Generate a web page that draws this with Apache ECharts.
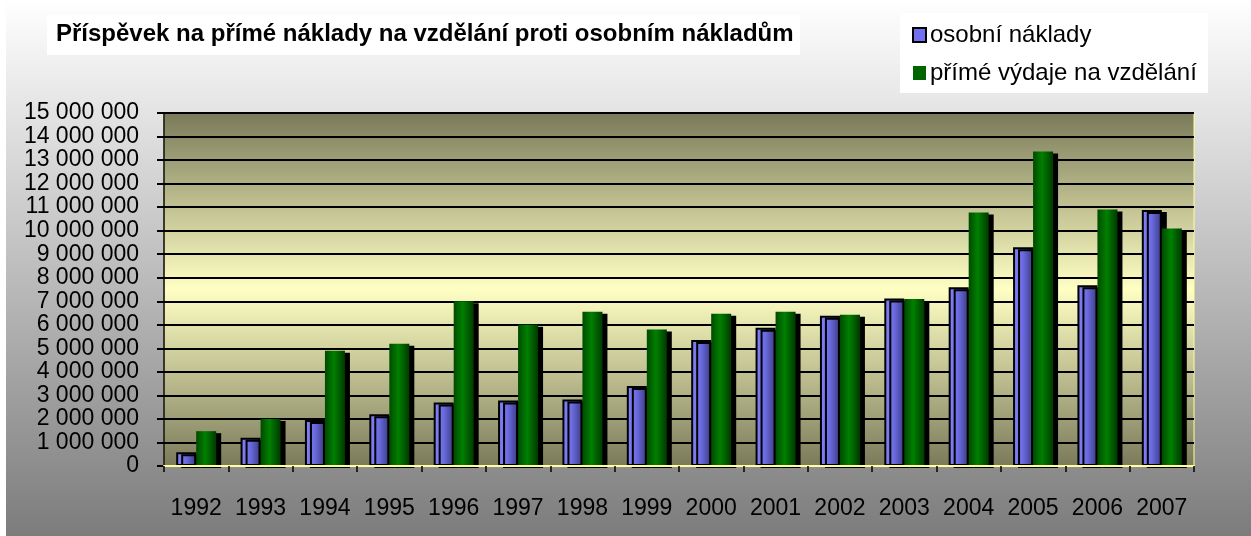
<!DOCTYPE html>
<html><head><meta charset="utf-8">
<script src="https://cdn.jsdelivr.net/npm/echarts@6/dist/echarts.min.js"></script>
<style>html,body{margin:0;padding:0;}#c{width:1251px;height:536px;}</style>
</head><body><div id="c"></div>
<script>
const years = ['1992','1993','1994','1995','1996','1997','1998','1999','2000','2001','2002','2003','2004','2005','2006','2007'];
const osobniNaklady = [580000,1200000,1950000,2200000,2700000,2780000,2830000,3400000,5350000,5870000,6380000,7120000,7600000,9300000,7680000,10880000];
const primeVydaje = [1480000,2000000,4900000,5200000,7000000,6000000,6550000,5800000,6470000,6550000,6430000,7100000,10770000,13360000,10900000,10090000];
const titleText = 'Příspěvek na přímé náklady na vzdělání proti osobním nákladům';
const seriesNames = ['osobní náklady','přímé výdaje na vzdělání'];

const G = echarts.graphic;
const chart = echarts.init(document.getElementById('c'));
const font = 'Liberation Sans, Arial, sans-serif';
chart.setOption({
  animation:false,
  backgroundColor: new G.LinearGradient(0,0,0,1,[{offset:0,color:'#ffffff'},{offset:1,color:'#7c7c7c'}]),
  graphic:[
    {type:'rect', z:-1, shape:{x:0,y:0,width:6,height:536}, style:{fill:'#ffffff'}},
    {type:'rect', z:-1, shape:{x:47,y:15,width:753,height:40}, style:{fill:'#ffffff'}},
    {type:'rect', z:-1, shape:{x:900,y:13,width:308,height:80}, style:{fill:'#ffffff'}}
  ],
  title:{text:titleText, left:56, top:22, padding:0,
    textStyle:{fontFamily:font, fontSize:24, fontWeight:'bold', color:'#000'}},
  legend:{orient:'vertical', left:912, top:23, padding:0, itemGap:14, itemWidth:13, itemHeight:14,
    textStyle:{fontFamily:font, fontSize:24, color:'#000', padding:[0,0,0,-1]},
    data:[
      {name:seriesNames[0], icon:'rect', itemStyle:{color:'#7070f0', borderColor:'#000', borderWidth:2, shadowBlur:0, shadowOffsetX:0, shadowOffsetY:0, shadowColor:'transparent'}},
      {name:seriesNames[1], icon:'rect', itemStyle:{color:'#006400', borderWidth:0, shadowBlur:0, shadowOffsetX:0, shadowOffsetY:0, shadowColor:'transparent'}}
    ]},
  grid:{left:164, right:57, top:113, bottom:70, show:true,
    backgroundColor: new G.LinearGradient(0,0,0,1,[
      {offset:0,color:'#7a7a5a'},{offset:0.5,color:'#ffffc4'},{offset:1,color:'#7a7a5a'}]),
    borderColor:'#ffff99', borderWidth:1},
  xAxis:{type:'category', data:years, z:5,
    axisLine:{show:true, lineStyle:{color:'#ffffa0', width:2}},
    axisTick:{show:true, length:6, lineStyle:{color:'#000', width:1.5}},
    axisLabel:{interval:0, margin:31, fontFamily:font, fontSize:23, color:'#000'}},
  yAxis:{type:'value', min:0, max:15000000, interval:1000000,
    axisLine:{show:true, lineStyle:{color:'#000', width:1.5}},
    axisTick:{show:true, length:7, lineStyle:{color:'#000', width:2}},
    splitLine:{show:true, lineStyle:{color:'#000', width:2}},
    axisLabel:{margin:25, fontFamily:font, fontSize:23, color:'#000',
      formatter:v=>String(v).replace(/\B(?=(\d{3})+(?!\d))/g,' ')}},
  series:[
    {name:seriesNames[0], type:'bar', data:osobniNaklady, barWidth:20, barGap:'0%',
      itemStyle:{color:new G.LinearGradient(0,0,1,0,[{offset:0,color:'#8484ff'},{offset:0.5,color:'#6a6ae0'},{offset:1,color:'#3a3a80'}]),
        borderColor:'#000', borderWidth:2,
        shadowColor:'#000', shadowBlur:0, shadowOffsetX:5, shadowOffsetY:2}},
    {name:seriesNames[1], type:'bar', data:primeVydaje, barWidth:20,
      itemStyle:{color:new G.LinearGradient(0,0,1,0,[{offset:0,color:'#004a00'},{offset:0.45,color:'#008000'},{offset:1,color:'#003a00'}]),
        shadowColor:'#000', shadowBlur:0, shadowOffsetX:5, shadowOffsetY:2}}
  ]
});
</script></body></html>
